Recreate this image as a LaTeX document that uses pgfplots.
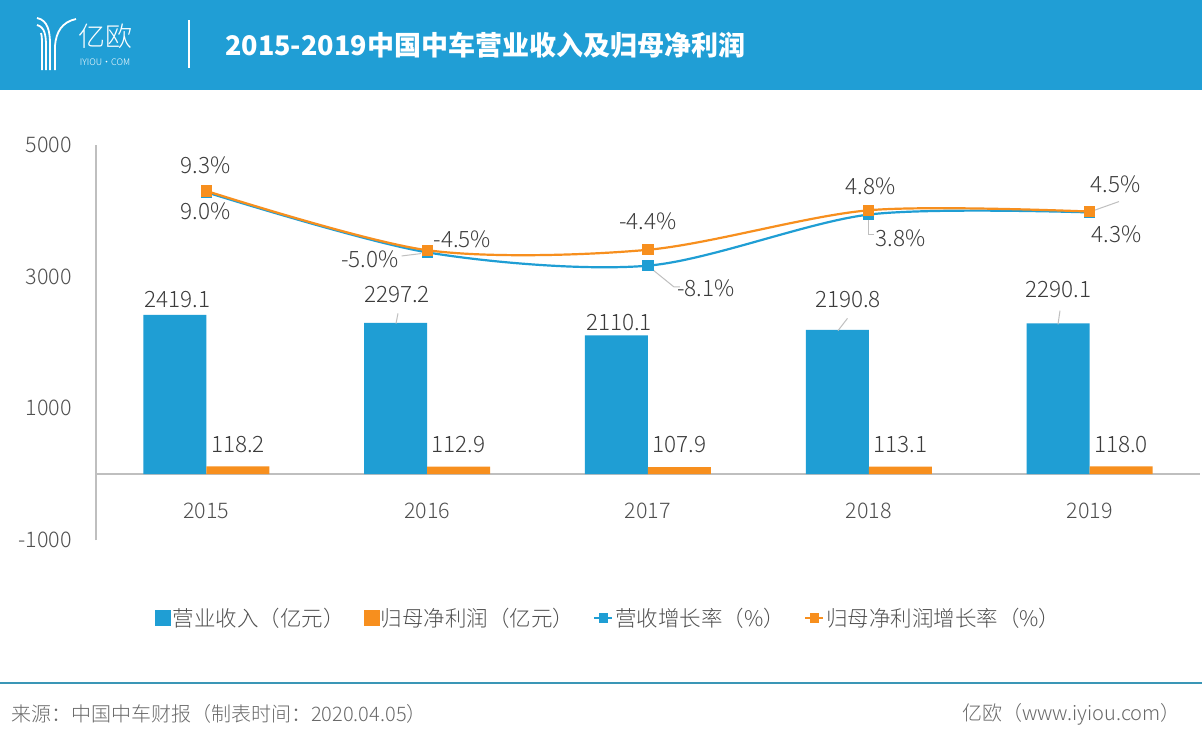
\documentclass[border=0pt]{standalone}
\usepackage{fontspec}
\setmainfont{Noto Sans CJK SC}
\newfontfamily\lt{Noto Sans CJK SC Light}
\usepackage{pgfplots}
\pgfplotsset{compat=1.18}
\definecolor{cBlue}{RGB}{31,158,212}
\definecolor{cHead}{RGB}{32,158,213}
\definecolor{cOrange}{RGB}{247,143,30}
\definecolor{cAxis}{RGB}{191,191,191}
\definecolor{cLbl}{RGB}{60,60,60}
\definecolor{cTick}{RGB}{80,80,80}
\definecolor{cFoot}{RGB}{105,105,105}
\definecolor{cRule}{RGB}{58,150,182}
\newcommand{\fs}[1]{\fontsize{#1}{#1}\selectfont}
\tikzset{lbl/.style={font=\lt\fs{22.5}, text=cLbl, inner sep=0pt},
         leader/.style={draw=cAxis, line width=1pt}}
\begin{document}
\begin{tikzpicture}
\fill[white] (0,0) rectangle (1202pt,-742pt);
\fill[cHead] (0,0) rectangle (1202pt,-90pt);
% logo
\begin{scope}[white, line width=1.8pt]
\draw (37pt,-18pt) .. controls (48pt,-20pt) and (50pt,-32pt) .. (50pt,-44pt) -- (50pt,-70pt);
\draw (37pt,-25pt) .. controls (45pt,-27pt) and (46pt,-36pt) .. (46pt,-46pt) -- (46pt,-70pt);
\draw (41pt,-33pt) .. controls (42pt,-36pt) and (42pt,-40pt) .. (42pt,-48pt) -- (42pt,-70pt);
\draw (76pt,-19pt) .. controls (62pt,-22pt) and (56pt,-32pt) .. (55pt,-46pt) -- (55pt,-70pt);
\end{scope}
\node[text=white, font=\lt\fs{27}, inner sep=0pt] at (105pt,-36pt) {亿欧};
\node[text=white, font=\lt\fs{9}, inner sep=0pt] at (105pt,-62pt) {IYIOU·COM};
\draw[white, line width=1.2pt] (189pt,-20pt) -- (189pt,-68pt);
\node[anchor=west, text=white, font=\fs{27}\bfseries, inner sep=0pt] at (225pt,-45pt) {2015-2019中国中车营业收入及归母净利润};

\begin{axis}[at={(96pt,-540pt)}, anchor=south west, scale only axis,
  width=1104pt, height=395pt, xmin=-0.5, xmax=4.5, ymin=-1000, ymax=5000,
  axis x line*=middle, axis y line*=left,
  axis line style={cAxis, line width=1.8pt}, major tick length=0pt,
  xtick={0,...,4}, xticklabels={2015,2016,2017,2018,2019},
  ytick={-1000,1000,3000,5000}, yticklabels={-1000,1000,3000,5000},
  ticklabel style={font=\lt\fs{21.5}, text=cTick, inner sep=0pt},
  xticklabel style={anchor=north, yshift=-29pt},
  yticklabel style={anchor=east, xshift=-24pt},
  ybar=0pt, bar width=63pt, clip=false]
\addplot[fill=cBlue, draw=none] coordinates {(0,2419.1) (1,2297.2) (2,2110.1) (3,2190.8) (4,2290.1)};
\addplot[fill=cOrange, draw=none] coordinates {(0,118.2) (1,112.9) (2,107.9) (3,113.1) (4,118.0)};
\node[lbl] at ([shift={(-28.9pt,15.7pt)}]axis cs:0,2419.1) {2419.1};
\node[lbl] at ([shift={(-30.2pt,28.3pt)}]axis cs:1,2297.2) {2297.2};
\draw[leader] ([shift={(-31.2pt,-0.7pt)}]axis cs:1,2297.2) -- ([shift={(-29.2pt,9.6pt)}]axis cs:1,2297.2);
\node[lbl] at ([shift={(-29pt,12.6pt)}]axis cs:2,2110.1) {2110.1};
\node[lbl] at ([shift={(-20.8pt,30.8pt)}]axis cs:3,2190.8) {2190.8};
\draw[leader] ([shift={(-30.8pt,-0.7pt)}]axis cs:3,2190.8) -- ([shift={(-21.3pt,11.6pt)}]axis cs:3,2190.8);
\node[lbl] at ([shift={(-31pt,33.7pt)}]axis cs:4,2290.1) {2290.1};
\draw[leader] ([shift={(-31.6pt,-1pt)}]axis cs:4,2290.1) -- ([shift={(-29.6pt,12.7pt)}]axis cs:4,2290.1);
\node[lbl] at ([shift={(31.5pt,29.5pt)}]axis cs:0,0) {118.2};
\node[lbl] at ([shift={(31.5pt,29.5pt)}]axis cs:1,0) {112.9};
\node[lbl] at ([shift={(31.5pt,29.5pt)}]axis cs:2,0) {107.9};
\node[lbl] at ([shift={(31.5pt,29.5pt)}]axis cs:3,0) {113.1};
\node[lbl] at ([shift={(31.5pt,29.5pt)}]axis cs:4,0) {118.0};
\end{axis}

\begin{axis}[at={(96pt,-540pt)}, anchor=south west, scale only axis,
  width=1104pt, height=395pt, xmin=-0.5, xmax=4.5, ymin=-72, ymax=20,
  hide axis, clip=false,
  legend columns=4, legend cell align=left,
  legend style={at={(0.4645,-0.1975)}, anchor=center, draw=none, fill=none,
    font=\lt\fs{21.5}, text=cTick, nodes={inner sep=2pt},
    /tikz/every even column/.append style={column sep=17pt}}]
\addlegendimage{legend image code/.code={\fill[cBlue] (0pt,-7.5pt) rectangle (15pt,7.5pt);}}
\addlegendentry{营业收入（亿元）}
\addlegendimage{legend image code/.code={\fill[cOrange] (0pt,-7.5pt) rectangle (15pt,7.5pt);}}
\addlegendentry{归母净利润（亿元）}
\addplot[cBlue, line width=2.2pt, smooth, mark=square*, mark size=4.5pt,
  legend image code/.code={\draw[cBlue, line width=2pt] (0pt,0pt) -- (18pt,0pt); \fill[cBlue] (5.5pt,-3.5pt) rectangle (12.5pt,3.5pt);}]
  coordinates {(0,9.0) (1,-5.0) (2,-8.1) (3,3.8) (4,4.3)};
\addlegendentry{营收增长率（\%）}
\addplot[cOrange, line width=2.2pt, smooth, mark=square*, mark size=4.5pt,
  legend image code/.code={\draw[cOrange, line width=2pt] (0pt,0pt) -- (18pt,0pt); \fill[cOrange] (5.5pt,-3.5pt) rectangle (12.5pt,3.5pt);}]
  coordinates {(0,9.3) (1,-4.5) (2,-4.4) (3,4.8) (4,4.5)};
\addlegendentry{归母净利润增长率（\%）}
\node[lbl] at ([shift={(-1pt,26pt)}]axis cs:0,9.3) {9.3\%};
\node[lbl] at ([shift={(-1pt,-19pt)}]axis cs:0,9.0) {9.0\%};
\node[lbl] at ([shift={(35pt,11pt)}]axis cs:1,-4.5) {-4.5\%};
\node[lbl] at ([shift={(-57.5pt,-6.6pt)}]axis cs:1,-5.0) {-5.0\%};
\draw[leader] ([shift={(-25.5pt,-3.6pt)}]axis cs:1,-5.0) -- ([shift={(-6pt,-1.2pt)}]axis cs:1,-5.0);
\node[lbl] at ([shift={(0pt,28pt)}]axis cs:2,-4.4) {-4.4\%};
\node[lbl] at ([shift={(58pt,-23pt)}]axis cs:2,-8.1) {-8.1\%};
\draw[leader] ([shift={(5pt,-4.3pt)}]axis cs:2,-8.1) -- ([shift={(26pt,-21.3pt)}]axis cs:2,-8.1) -- ([shift={(32pt,-21.3pt)}]axis cs:2,-8.1);
\node[lbl] at ([shift={(2pt,24pt)}]axis cs:3,4.8) {4.8\%};
\node[lbl] at ([shift={(32pt,-24pt)}]axis cs:3,3.8) {3.8\%};
\draw[leader] ([shift={(0pt,-5pt)}]axis cs:3,3.8) -- ([shift={(0pt,-20.4pt)}]axis cs:3,3.8) -- ([shift={(5pt,-20.4pt)}]axis cs:3,3.8);
\node[lbl] at ([shift={(26pt,27pt)}]axis cs:4,4.5) {4.5\%};
\draw[leader] ([shift={(4pt,1pt)}]axis cs:4,4.5) -- ([shift={(29.4pt,10pt)}]axis cs:4,4.5);
\node[lbl] at ([shift={(27pt,-22pt)}]axis cs:4,4.3) {4.3\%};
\end{axis}

\draw[cRule, line width=2.5pt] (0pt,-683pt) -- (1202pt,-683pt);
\node[anchor=west, text=cFoot, font=\lt\fs{20}, inner sep=0pt] at (11pt,-714pt) {来源：中国中车财报（制表时间：2020.04.05）};
\node[anchor=east, text=cFoot, font=\lt\fs{20}, inner sep=0pt] at (1181pt,-714pt) {亿欧（www.iyiou.com）};
\pgfresetboundingbox
\useasboundingbox (0,0) rectangle (1202pt,-742pt);
\end{tikzpicture}
\end{document}
